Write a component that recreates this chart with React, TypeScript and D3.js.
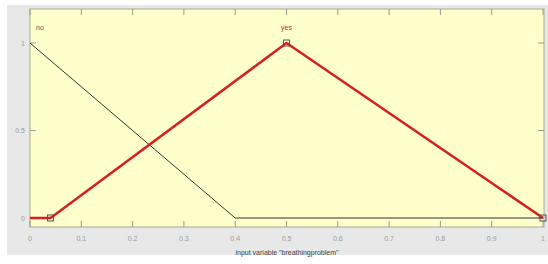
import * as d3 from "d3";
import { useEffect, useRef } from "react";

const xTicks = [0, 0.1, 0.2, 0.3, 0.4, 0.5, 0.6, 0.7, 0.8, 0.9, 1];
const yTicks = [0, 0.5, 1];

// membership functions of "breathingproblem"
const noPoints: [number, number][] = [[0, 1], [0.4, 0], [1, 0]];
const yesPoints: [number, number][] = [[0, 0], [0.04, 0], [0.5, 1], [1, 0]];
const yesMarkers: [number, number][] = [[0.04, 0], [0.5, 1], [1, 0]];

const W = 548;
const H = 264;

export default function App() {
  const ref = useRef<SVGSVGElement>(null);

  useEffect(() => {
    const el = ref.current;
    d3.select(el).selectAll("*").remove();
    const svg = d3.select(el);

    const left = 30, right = 544, top = 9, bottom = 227;
    const x = d3.scaleLinear().domain([0, 1]).range([left, 543]);
    const y = d3.scaleLinear().domain([0, 1]).range([218, 43]);

    svg.append("rect").attr("width", W).attr("height", H).attr("fill", "#fff");
    svg.append("rect").attr("x", 7).attr("y", 5).attr("width", W - 7).attr("height", 250).attr("fill", "#e8e8e8");

    svg
      .append("rect")
      .attr("x", left)
      .attr("y", top)
      .attr("width", right - left)
      .attr("height", bottom - top)
      .attr("fill", "#ffffcc")
      .attr("stroke", "#a8a890")
      .attr("stroke-width", 1);

    // ticks inward on all sides
    const tk = svg.append("g").attr("stroke", "#9a9a8a").attr("stroke-width", 1);
    xTicks.forEach((t) => {
      tk.append("line").attr("x1", x(t)).attr("x2", x(t)).attr("y1", bottom).attr("y2", bottom - 6);
      tk.append("line").attr("x1", x(t)).attr("x2", x(t)).attr("y1", top).attr("y2", top + 6);
    });
    yTicks.forEach((t) => {
      tk.append("line").attr("x1", left).attr("x2", left + 6).attr("y1", y(t)).attr("y2", y(t));
      tk.append("line").attr("x1", right).attr("x2", right - 6).attr("y1", y(t)).attr("y2", y(t));
    });

    const font = "Liberation Sans, Arial, sans-serif";
    svg
      .append("g")
      .selectAll("text")
      .data(xTicks)
      .join("text")
      .attr("x", (d) => x(d))
      .attr("y", 241)
      .attr("text-anchor", "middle")
      .attr("font-family", font)
      .attr("font-size", 7)
      .attr("fill", "#999")
      .text((d) => String(d));

    svg
      .append("g")
      .selectAll("text")
      .data(yTicks)
      .join("text")
      .attr("x", left - 5)
      .attr("y", (d) => y(d) + 2.5)
      .attr("text-anchor", "end")
      .attr("font-family", font)
      .attr("font-size", 7)
      .attr("fill", "#999")
      .text((d) => String(d));

    svg
      .append("text")
      .attr("x", 287)
      .attr("y", 255)
      .attr("text-anchor", "middle")
      .attr("font-family", font)
      .attr("font-size", 7)
      .attr("fill", "#444")
      .text('input variable "breathingproblem"');

    const line = d3
      .line<[number, number]>()
      .x((d) => x(d[0]))
      .y((d) => y(d[1]));

    svg
      .append("path")
      .datum(noPoints)
      .attr("fill", "none")
      .attr("stroke", "#333")
      .attr("stroke-width", 1)
      .attr("d", line);

    svg
      .append("path")
      .datum(yesPoints)
      .attr("fill", "none")
      .attr("stroke", "#d42020")
      .attr("stroke-width", 2.5)
      .attr("d", line);

    svg
      .append("g")
      .selectAll("rect")
      .data(yesMarkers)
      .join("rect")
      .attr("x", (d) => x(d[0]) - 3)
      .attr("y", (d) => y(d[1]) - 3)
      .attr("width", 6)
      .attr("height", 6)
      .attr("fill", "none")
      .attr("stroke", "#555")
      .attr("stroke-width", 1);

    svg
      .append("text")
      .attr("x", 36)
      .attr("y", 30)
      .attr("font-family", font)
      .attr("font-size", 7)
      .attr("fill", "#555")
      .text("no");

    svg
      .append("text")
      .attr("x", x(0.5))
      .attr("y", 30)
      .attr("text-anchor", "middle")
      .attr("font-family", font)
      .attr("font-size", 7)
      .attr("fill", "#d42020")
      .text("yes");
  }, []);

  return (
    <div style={{ position: "absolute", left: 0, top: 0 }}>
      <svg ref={ref} width={W} height={H} style={{ display: "block" }} />
    </div>
  );
}
